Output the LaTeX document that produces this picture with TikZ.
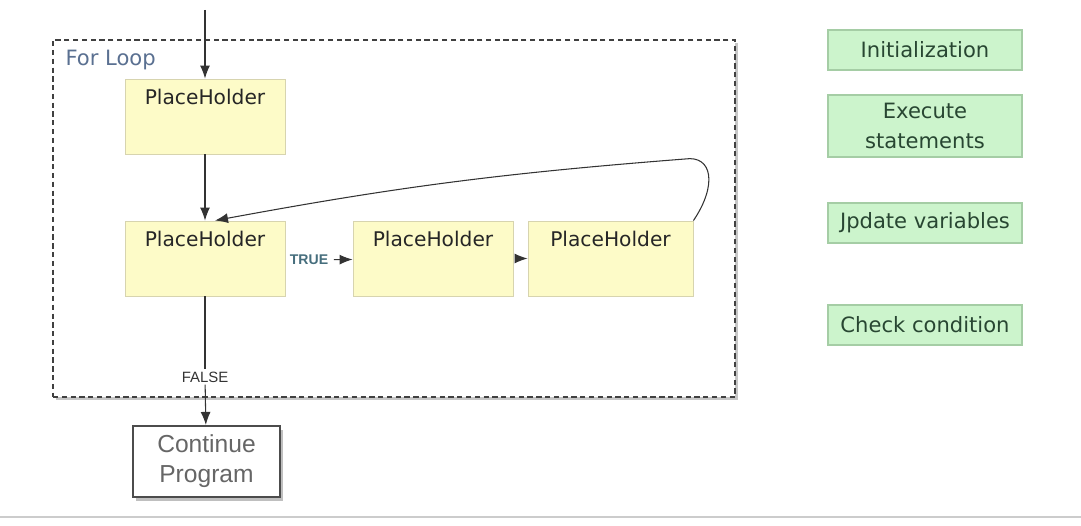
\documentclass[tikz,border=0pt]{standalone}
\usepackage{fontspec}
\setmainfont{DejaVu Sans}
\newfontfamily\arialfont{Liberation Sans}
\usepackage{tikz}
\usetikzlibrary{arrows, arrows.meta, positioning, shapes, shadows}

\definecolor{phfill}{RGB}{253,251,200}
\definecolor{phline}{RGB}{215,212,175}
\definecolor{stepfill}{RGB}{204,244,204}
\definecolor{stepline}{RGB}{165,205,165}
\definecolor{steptext}{RGB}{40,70,50}
\definecolor{looptext}{RGB}{90,112,145}
\definecolor{truetext}{RGB}{70,110,125}

\begin{document}
\begin{tikzpicture}[%
        >={Latex[length=2.6mm, width=2mm]},
        semithick, draw=black!80,
        loopframe/.style={draw=black!75, line width=1.1pt, dash pattern=on 3pt off 2pt,
            fill=white, drop shadow={opacity=0.45, shadow xshift=0.6mm, shadow yshift=-0.7mm}},
        phbox/.style={rectangle, draw=phline, line width=0.5pt, fill=phfill,
            minimum width=3.2cm, inner sep=0.1cm, text height=0.42cm, text depth=0.88cm,
            font=\fontsize{11.5}{13}\selectfont, text=black!85},
        stepbox/.style={rectangle, draw=stepline, line width=0.6pt, fill=stepfill,
            minimum width=3.88cm, align=center, text=steptext,
            font=\fontsize{12}{17}\selectfont},
        endbox/.style={rectangle, draw=black!70, line width=1.2pt, fill=white,
            minimum width=2.94cm, minimum height=1.42cm, align=center, text=black!60,
            font=\arialfont\fontsize{14}{17}\selectfont,
            drop shadow={opacity=0.5, shadow xshift=0.6mm, shadow yshift=-0.8mm}},
        tag/.style={inner sep=1pt, font=\arialfont\fontsize{8.5}{10}\selectfont}
    ]
    \useasboundingbox (0,0) rectangle (21.62,-10.52);

    % --- Loop frame ---
    \node[loopframe, minimum width=13.64cm, minimum height=7.14cm] (loop) at (7.88,-4.37) {};
    \node[anchor=north west, inner sep=0pt, text=looptext, font=\fontsize{12}{14}\selectfont]
        (looplbl) at (1.3,-1.0) {For Loop};

    % --- Loop body ---
    \coordinate (start) at (4.1,-0.2);
    \node[phbox] (init) at (4.1,-2.33) {PlaceHolder};
    \node[phbox] (cond) at (4.1,-5.17) {PlaceHolder};
    \node[phbox] (body) at (8.66,-5.17) {PlaceHolder};
    \node[phbox, minimum width=3.3cm] (update) at (12.21,-5.17) {PlaceHolder};
    \node[tag, text=truetext, font=\arialfont\bfseries\fontsize{8}{10}\selectfont]
        (true) at (6.18,-5.2) {TRUE};
    \node[tag, text=black!80] (false) at (4.1,-7.54) {FALSE};

    \draw[->] (start) -- (init);
    \draw[->] (init) -- (cond);
    \draw[->, shorten <=2pt] (true) -- (body);
    \draw[->, shorten <=3pt] (body) -- (update);
    \draw[->] (update.north east) .. controls (14.35,-3.7) and (14.25,-3.1) .. (13.7,-3.18)
        to[bend right=3] ([xshift=0.2cm]cond.north);
    \draw (cond) -- (false);

    % --- After the loop ---
    \node[endbox] (cont) at (4.13,-9.23) {Continue\\Program};
    \draw[->] (false) -- (cont);

    % --- Legend ---
    \node[stepbox, minimum height=0.8cm] (linit) at (18.5,-1.0) {Initialization};
    \node[stepbox, minimum height=1.24cm] (lexec) at (18.5,-2.52) {Execute\\statements};
    \node[stepbox, minimum height=0.8cm] (lupd) at (18.5,-4.46) {Jpdate variables};
    \node[stepbox, minimum height=0.8cm] (lcheck) at (18.5,-6.5) {Check condition};

    \draw[black!20, line width=1.5pt] (0,-10.34) -- (21.62,-10.34);
\end{tikzpicture}
\end{document}
